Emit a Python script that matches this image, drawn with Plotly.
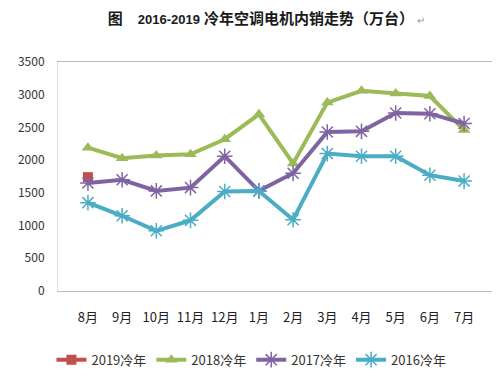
import plotly.graph_objects as go

months = ["8月", "9月", "10月", "11月", "12月", "1月", "2月", "3月", "4月", "5月", "6月", "7月"]
y2019 = [1740, None, None, None, None, None, None, None, None, None, None, None]
y2018 = [2190, 2030, 2070, 2090, 2320, 2700, 1950, 2880, 3060, 3020, 2980, 2460]
y2017 = [1650, 1700, 1530, 1580, 2060, 1530, 1800, 2430, 2440, 2720, 2710, 2560]
y2016 = [1350, 1150, 920, 1080, 1520, 1530, 1090, 2100, 2060, 2060, 1770, 1680]
y_ticks = [0, 500, 1000, 1500, 2000, 2500, 3000, 3500]

font = "Noto Sans CJK SC"
fig = go.Figure()
fig.add_trace(go.Scatter(x=months, y=y2019, name="2019冷年", mode="lines+markers",
                         line=dict(color="#C0504D", width=4),
                         marker=dict(symbol="square", size=10, color="#C0504D")))
fig.add_trace(go.Scatter(x=months, y=y2018, name="2018冷年", mode="lines+markers",
                         line=dict(color="#9BBB59", width=4),
                         marker=dict(symbol="triangle-up", size=11, color="#9BBB59")))
fig.add_trace(go.Scatter(x=months, y=y2017, name="2017冷年", mode="lines+markers",
                         line=dict(color="#8064A2", width=4),
                         marker=dict(symbol="asterisk-open", size=13,
                                     line=dict(color="#8064A2", width=1.5))))
fig.add_trace(go.Scatter(x=months, y=y2016, name="2016冷年", mode="lines+markers",
                         line=dict(color="#4BACC6", width=4),
                         marker=dict(symbol="asterisk-open", size=13,
                                     line=dict(color="#4BACC6", width=1.5))))

fig.update_layout(
    width=492, height=367,
    margin=dict(l=50, r=6, t=54, b=84, autoexpand=False),
    paper_bgcolor="white", plot_bgcolor="white",
    font=dict(family=font, size=12, color="#333333"),
    title=dict(text="<b>图　<span style='font-size:13px'>2016-2019</span> 冷年空调电机内销走势（万台）</b>"
                    "<span style='color:#999999;font-size:10px'> ↵</span>",
               x=0.525, xanchor="center", y=1 - 5 / 367, yanchor="top",
               pad=dict(t=0, b=0),
               font=dict(family="Liberation Sans, Noto Sans CJK SC", size=15, color="#1a1a1a")),
    showlegend=True,
    legend=dict(orientation="h", x=-0.015, xanchor="left", y=-0.30, yanchor="middle",
                font=dict(family=font, size=13, color="#333333"), itemwidth=30,
                bgcolor="rgba(0,0,0,0)"),
    xaxis=dict(showline=True, linecolor="#BBBBBB", linewidth=1, mirror=True, automargin=False,
               showgrid=False, ticks="", ticklabelstandoff=14,
               tickfont=dict(size=13, color="#222222")),
    yaxis=dict(range=[0, 3500], tickvals=y_ticks, showline=True, linecolor="#DDDDDD",
               mirror=True, showgrid=False, zeroline=False, ticks="", automargin=False,
               ticklabelstandoff=10, tickfont=dict(size=12, color="#333333")),
)
fig.write_html("out.html")
